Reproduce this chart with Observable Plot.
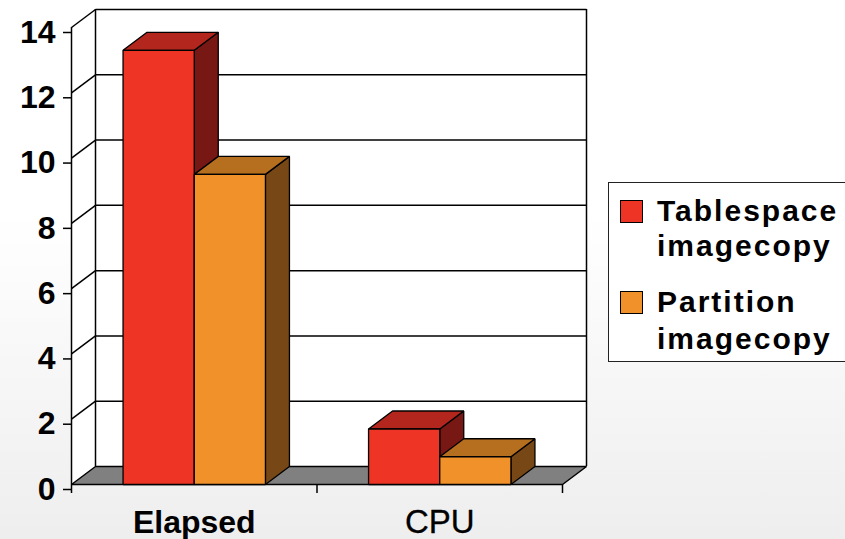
<!DOCTYPE html>
<html>
<head>
<meta charset="utf-8">
<script src="https://cdn.jsdelivr.net/npm/d3@7"></script>
<script src="https://cdn.jsdelivr.net/npm/@observablehq/plot@0.6"></script>
<style>
html, body { margin: 0; padding: 0; width: 845px; height: 539px; overflow: hidden;
  background: linear-gradient(to bottom, #ffffff 0%, #ffffff 40%, #eeeeee 100%); }
#wrap { position: relative; width: 845px; height: 539px; }
#legend { position: absolute; left: 608px; top: 182px; width: 300px; height: 178px;
  border: 1px solid #222; background: #fff; overflow: hidden;
  font-family: "Liberation Sans", Arial, sans-serif; font-weight: bold; font-size: 30px; letter-spacing: 2px; color: #000; }
#legend .sw { position: absolute; left: 11px; width: 21px; height: 21px; border: 1px solid #000; }
#legend .ln { position: absolute; left: 48px; line-height: 36px; height: 36px; white-space: nowrap; }
</style>
</head>
<body>
<div id="wrap"></div>
<script>
// ---- data ----
const categories = ["Elapsed", "CPU"];
const seriesNames = ["Tablespace imagecopy", "Partition imagecopy"];
const tablespace = [13.3, 1.7];
const partition = [9.5, 0.85];
const yTicks = [0, 2, 4, 6, 8, 10, 12, 14];

// ---- style / layout ----
const palette = [
  { front: "#ee3424", top: "#b2261e", side: "#781814" },
  { front: "#f09129", top: "#b66e1f", side: "#784716" }
];
const W = 845, H = 539, ML = 71, MR = 283, MT = 27, MB = 55;
const depthPx = [24, 18];
const yMax = 14, nCat = categories.length;
const ox = depthPx[0] * nCat / (W - ML - MR);
const oy = depthPx[1] * yMax / (H - MT - MB);
const gap = 0.21, bw = 0.29;
const values = [tablespace, partition];

// walls & floor polygons
const walls = [
  { key: "side", fill: "#ffffff", pts: [[0, 0], [0, yMax], [ox, yMax + oy], [ox, oy]] },
  { key: "back", fill: "#ffffff", pts: [[ox, oy], [ox, yMax + oy], [nCat + ox, yMax + oy], [nCat + ox, oy]] }
];
const floor = [
  { key: "floor", fill: "#808080", pts: [[0, 0], [nCat, 0], [nCat + ox, oy], [ox, oy]] }
];
const faces = [];
categories.forEach((c, ci) => {
  values.forEach((vals, si) => {
    const v = vals[ci];
    const x0 = ci + gap + si * bw, x1 = x0 + bw;
    const col = palette[si];
    faces.push({ key: `${c}-${si}-side`, fill: col.side, pts: [[x1, 0], [x1, v], [x1 + ox, v + oy], [x1 + ox, oy]] });
    faces.push({ key: `${c}-${si}-top`, fill: col.top, pts: [[x0, v], [x1, v], [x1 + ox, v + oy], [x0 + ox, v + oy]] });
    faces.push({ key: `${c}-${si}-front`, fill: col.front, pts: [[x0, 0], [x1, 0], [x1, v], [x0, v]] });
  });
});
const rows = (polys) => polys.flatMap(f => f.pts.map(([x, y]) => ({ key: f.key, fill: f.fill, x, y })));

const grid = yTicks.filter(v => v > 0);
const catRows = categories.map((c, i) => ({ c, i }));

const chart = Plot.plot({
  width: W, height: H,
  marginLeft: ML, marginRight: MR, marginTop: MT, marginBottom: MB,
  x: { type: "linear", domain: [0, nCat] },
  y: { type: "linear", domain: [0, yMax] },
  color: { type: "identity" },
  style: { background: "transparent", fontFamily: "'Liberation Sans', Arial, sans-serif", color: "#000", overflow: "visible" },
  marks: [
    Plot.line(rows(walls), { x: "x", y: "y", z: "key", fill: "fill", stroke: "none", curve: "linear-closed" }),
    Plot.link(grid, { x1: () => ox, x2: () => nCat + ox, y1: v => v + oy, y2: v => v + oy, stroke: "#000", strokeWidth: 1.5 }),
    Plot.link(grid, { x1: () => 0, x2: () => ox, y1: v => v, y2: v => v + oy, stroke: "#000", strokeWidth: 1.5 }),
    Plot.ruleX([ox, nCat + ox], { y1: oy, y2: yMax + oy, stroke: "#000", strokeWidth: 1.5 }),
    Plot.line(rows(floor), { x: "x", y: "y", z: "key", fill: "fill", stroke: "#000", strokeWidth: 1.5, strokeLinejoin: "miter", curve: "linear-closed" }),
    Plot.ruleX([0], { y1: 0, y2: yMax, stroke: "#000", strokeWidth: 1.5 }),
    Plot.line(rows(faces), { x: "x", y: "y", z: "key", fill: "fill", stroke: "#000", strokeWidth: 1.3, strokeLinejoin: "miter", curve: "linear-closed" }),
    Plot.axisY({ ticks: yTicks, label: null, tickSize: 8, tickPadding: 8, fontSize: 32, fontWeight: "bold", dy: 5, stroke: "#000", strokeWidth: 1.5, fill: "#000" }),
    Plot.axisX({ ticks: d3.range(nCat + 1), label: null, tickSize: 9, tickFormat: () => "", stroke: "#000", strokeWidth: 1.5 }),
    Plot.text(catRows.filter(d => d.i === 0), { x: d => d.i + 0.5, y: () => 0, text: "c", dy: 38, fontSize: 32, fontWeight: "bold", fill: "#000" }),
    Plot.text(catRows.filter(d => d.i !== 0), { x: d => d.i + 0.5, y: () => 0, text: "c", dy: 38, fontSize: 33, fontWeight: "normal", fill: "#000", stroke: "#000", strokeWidth: 0.3 })
  ]
});
const wrap = document.getElementById("wrap");
wrap.appendChild(chart);

// legend (HTML)
const legend = document.createElement("div");
legend.id = "legend";
const lineTops = [[10, 45], [101, 138]];
seriesNames.forEach((name, si) => {
  const parts = name.split(" ");
  const sw = document.createElement("div");
  sw.className = "sw";
  sw.style.background = palette[si].front;
  sw.style.top = (lineTops[si][0] + 7) + "px";
  legend.appendChild(sw);
  parts.forEach((p, pi) => {
    const ln = document.createElement("div");
    ln.className = "ln";
    ln.textContent = p;
    ln.style.top = lineTops[si][pi] + "px";
    legend.appendChild(ln);
  });
});
wrap.appendChild(legend);
</script>
</body>
</html>
